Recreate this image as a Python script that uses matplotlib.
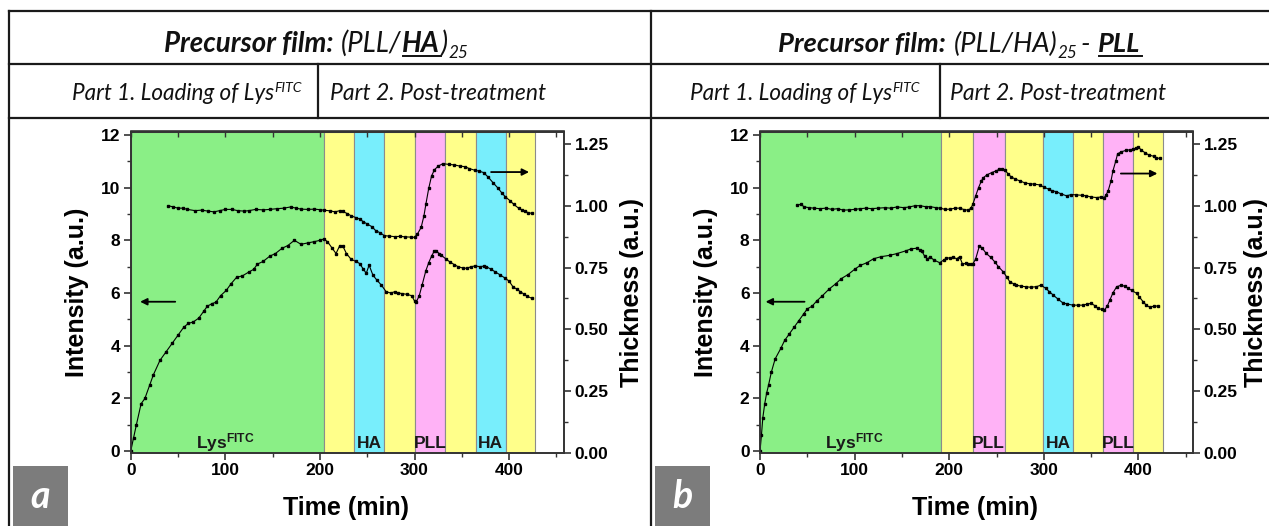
import matplotlib
matplotlib.use('Agg')
import matplotlib.pyplot as plt
from matplotlib.lines import Line2D
from matplotlib.patches import Rectangle
from matplotlib.transforms import IdentityTransform
from matplotlib.ticker import MultipleLocator, FormatStrFormatter

# ---------------- data ----------------
# Panel a : precursor (PLL/HA)25
a_int_t = [0, 3, 6, 11, 15, 20, 24, 31, 37, 44, 50, 56, 61, 66, 72, 77, 81, 86, 90, 95, 101, 106,
           112, 118, 125, 130, 134, 140, 147, 153, 160, 166, 173, 180, 187, 194, 200, 204, 208, 213,
           217, 221, 224, 228, 233, 238, 242, 246, 249, 252, 256, 260, 265, 270, 275, 279, 283, 287,
           292, 297, 300, 302, 305, 308, 312, 315, 318, 321, 323, 326, 328, 333, 337, 342, 346, 351,
           355, 360, 364, 369, 373, 376, 381, 385, 390, 396, 400, 404, 408, 412, 416, 419, 424]
a_int_v = [0.0, 0.5, 1.0, 1.8, 2.0, 2.5, 2.9, 3.45, 3.75, 4.1, 4.4, 4.7, 4.85, 4.9, 5.05, 5.3, 5.5,
           5.6, 5.65, 5.9, 6.1, 6.35, 6.6, 6.65, 6.8, 6.9, 7.1, 7.2, 7.4, 7.5, 7.7, 7.8, 8.0, 7.85,
           7.9, 7.95, 8.0, 8.05, 7.95, 7.7, 7.5, 7.8, 7.8, 7.5, 7.28, 7.2, 7.12, 6.9, 6.75, 7.06,
           6.68, 6.5, 6.3, 6.05, 6.0, 6.05, 6.0, 5.98, 5.95, 5.9, 5.7, 5.67, 5.9, 6.3, 6.85, 7.15,
           7.4, 7.6, 7.6, 7.5, 7.44, 7.3, 7.19, 7.08, 7.0, 6.95, 6.94, 7.0, 7.03, 7.0, 7.02, 7.0,
           6.9, 6.81, 6.7, 6.56, 6.45, 6.24, 6.15, 6.05, 5.95, 5.88, 5.8]
a_thk_t = [39.5, 45, 50, 55, 60, 68, 75, 82, 88, 94, 100, 107, 113, 120, 125, 132, 140, 147, 155,
           162, 169, 175, 180, 187, 194, 200, 204, 211, 216, 221, 224, 229, 233, 238, 242, 246, 250,
           255, 259, 264, 268, 273, 279, 285, 290, 296, 300, 303, 307, 310, 312, 315, 318, 321, 325,
           330, 336, 342, 348, 353, 358, 364, 368, 373, 378, 383, 388, 392, 396, 401, 405, 410, 414,
           417, 420, 424]
a_thk_v = [1.0, 0.995, 0.99, 0.99, 0.985, 0.98, 0.982, 0.978, 0.975, 0.98, 0.985, 0.985, 0.98,
           0.978, 0.98, 0.985, 0.983, 0.985, 0.988, 0.99, 0.995, 0.99, 0.986, 0.985, 0.986, 0.984,
           0.982, 0.979, 0.975, 0.98, 0.977, 0.968, 0.959, 0.952, 0.946, 0.935, 0.926, 0.915, 0.899,
           0.89, 0.879, 0.877, 0.875, 0.876, 0.874, 0.873, 0.872, 0.885, 0.912, 0.96, 1.006, 1.07,
           1.12, 1.145, 1.16, 1.17, 1.167, 1.165, 1.16, 1.158, 1.15, 1.143, 1.14, 1.134, 1.115,
           1.093, 1.072, 1.053, 1.036, 1.02, 1.005, 0.99, 0.982, 0.977, 0.972, 0.969]
a_band_edges = [0, 204, 236, 268, 300.5, 332.5, 364.5, 396.5, 427.5]
a_band_kinds = ['Lys', 'rinse', 'HA', 'rinse', 'PLL', 'rinse', 'HA', 'rinse']

# Panel b : precursor (PLL/HA)25-PLL
b_int_t = [0, 1.5, 3, 5, 7, 9, 12, 16, 22, 26, 31, 36, 41, 46, 50, 55, 60, 66, 73, 80, 86, 93, 100,
           106, 113, 120, 128, 137, 145, 154, 160, 166, 169, 171, 174, 177, 180, 184, 190, 194, 197,
           201, 204, 208, 211, 214, 218, 220, 223, 225, 228, 232, 235, 239, 244, 248, 252, 257, 261,
           264, 268, 271, 276, 281, 286, 292, 297, 302, 306, 310, 315, 320, 325, 331, 336, 341, 346,
           350, 354, 357, 361, 364, 367, 370, 373, 377, 382, 386, 389, 393, 398, 401, 405, 408, 412,
           416, 421]
b_int_v = [0.0, 0.6, 1.27, 1.8, 2.2, 2.5, 3.0, 3.5, 3.9, 4.2, 4.45, 4.7, 4.95, 5.2, 5.4, 5.5, 5.7,
           5.9, 6.15, 6.35, 6.55, 6.7, 6.9, 7.05, 7.15, 7.3, 7.38, 7.43, 7.5, 7.6, 7.68, 7.7, 7.63,
           7.6, 7.4, 7.3, 7.36, 7.25, 7.15, 7.25, 7.32, 7.34, 7.36, 7.3, 7.38, 7.1, 7.13, 7.12, 7.1,
           7.1, 7.3, 7.8, 7.7, 7.51, 7.35, 7.19, 7.0, 6.81, 6.6, 6.43, 6.35, 6.3, 6.26, 6.24, 6.22,
           6.24, 6.3, 6.18, 6.05, 5.92, 5.77, 5.63, 5.58, 5.54, 5.54, 5.54, 5.58, 5.61, 5.52, 5.42,
           5.38, 5.35, 5.5, 5.75, 6.0, 6.24, 6.3, 6.25, 6.18, 6.1, 5.99, 5.85, 5.67, 5.55, 5.46,
           5.5, 5.51]
b_thk_t = [39, 43, 47, 52, 57, 63, 70, 76, 82, 88, 94, 100, 106, 112, 118, 125, 132, 138, 145, 152,
           158, 164, 169, 175, 180, 186, 190, 196, 201, 206, 211, 216, 220, 223, 225, 228, 231, 234,
           236, 240, 245, 249, 253, 256, 259, 262, 265, 270, 275, 280, 285, 290, 296, 300, 305, 309,
           313, 318, 324, 329, 334, 340, 345, 350, 356, 360, 364, 366, 368, 371, 373, 376, 378, 382,
           387, 391, 394, 397, 400, 403, 407, 411, 416, 419, 423]
b_thk_v = [1.003, 1.005, 0.995, 0.992, 0.99, 0.988, 0.99, 0.985, 0.988, 0.982, 0.983, 0.985, 0.988,
           0.99, 0.988, 0.99, 0.992, 0.99, 0.995, 0.992, 0.995, 1.0, 1.0, 0.996, 0.996, 0.992, 0.99,
           0.985, 0.986, 0.99, 0.99, 0.984, 0.982, 0.99, 1.006, 1.04, 1.073, 1.1, 1.113, 1.125,
           1.134, 1.14, 1.147, 1.147, 1.143, 1.13, 1.118, 1.107, 1.1, 1.092, 1.089, 1.087, 1.084,
           1.075, 1.067, 1.06, 1.057, 1.048, 1.04, 1.045, 1.044, 1.042, 1.04, 1.035, 1.033, 1.035,
           1.033, 1.045, 1.06, 1.1, 1.14, 1.18, 1.21, 1.218, 1.224, 1.226, 1.228, 1.232, 1.237,
           1.225, 1.214, 1.205, 1.2, 1.193, 1.191]
b_band_edges = [0, 191.5, 225, 258.5, 299, 331, 363, 394.5, 426]
b_band_kinds = ['Lys', 'rinse', 'PLL', 'rinse', 'HA', 'rinse', 'PLL', 'rinse']

x_major = [0, 100, 200, 300, 400]
left_major = [0, 2, 4, 6, 8, 10, 12]
right_major = [0.0, 0.25, 0.5, 0.75, 1.0, 1.25]

band_colors = {'Lys': '#8aef86', 'rinse': '#ffff8a', 'HA': '#78eefc', 'PLL': '#ffb2f6'}
band_text = {'Lys': r'$\mathbf{Lys}^{\mathbf{FITC}}$', 'HA': 'HA', 'PLL': 'PLL', 'rinse': None}

# ---------------- figure ----------------
W, H, DPI = 1269, 526, 100
plt.rcParams['mathtext.fontset'] = 'custom'
plt.rcParams['mathtext.rm'] = 'Liberation Sans'
plt.rcParams['mathtext.bf'] = 'Liberation Sans:bold'
plt.rcParams['mathtext.it'] = 'Liberation Sans:italic'
fig = plt.figure(figsize=(W / DPI, H / DPI), dpi=DPI)
fig.patch.set_facecolor('white')

AXF = ['Liberation Sans', 'DejaVu Sans']
TBF = ['Lato', 'DejaVu Sans']
ident = IdentityTransform()


def fx(x):
    return x / W


def fy(y):
    return 1 - y / H


# table lines
lw_tab = 1.6
for (x0, y0, x1, y1) in [(9, 11, W, 11), (9, 64, W, 64), (9, 118, W, 118), (9, 11, 9, H),
                         (651, 11, 651, H), (318, 64, 318, 118), (940, 64, 940, 118)]:
    fig.add_artist(Line2D([fx(x0), fx(x1)], [fy(y0), fy(y1)], transform=fig.transFigure,
                          color='#1a1a1a', lw=lw_tab))

renderer = fig.canvas.get_renderer()


def rich(segs, x_left, base_y, width, base_size=14.0):
    """segs: list of (text, weight, script, underline, gap_em_before)"""
    def build(size):
        arts = []
        total = 0.0
        for text, weight, script, ul, gap in segs:
            fs = size * (0.62 if script else 1.0)
            t = fig.text(0, 0, text, transform=ident, fontsize=fs, fontweight=weight,
                         fontstyle='italic', family=TBF, va='baseline', ha='left', color='#111111')
            w = t.get_window_extent(renderer).width
            g = gap * size * DPI / 72.0
            total += g
            arts.append((t, w, g, script, ul, fs))
            total += w
        return arts, total

    arts, total = build(base_size)
    scale = width / total
    for a in arts:
        a[0].remove()
    size = base_size * scale
    arts, total = build(size)
    x = x_left
    spx = size * DPI / 72.0
    yb = H - base_y
    for t, w, g, script, ul, fs in arts:
        x += g
        dy = 0.0
        if script == 'sub':
            dy = -0.22 * spx
        elif script == 'sup':
            dy = 0.36 * spx
        t.set_position((x, yb + dy))
        if ul:
            fig.add_artist(Line2D([x + 1, x + w + 1], [yb - 0.14 * spx] * 2, transform=ident,
                                  color='#111111', lw=1.4))
        x += w


B, N = 'bold', 'normal'
rich([('Precursor film:', B, None, False, 0), ('(PLL/', N, None, False, 0.28),
      ('HA', B, None, True, 0.02), (')', N, None, False, 0.02), ('25', N, 'sub', False, 0.02)],
     164, 52, 305)
rich([('Precursor film:', B, None, False, 0), ('(PLL/HA)', N, None, False, 0.28),
      ('25', N, 'sub', False, 0.02), ('-', N, None, False, 0.12), ('PLL', B, None, True, 0.28)],
     778, 52, 364)
rich([('Part 1. Loading of Lys', N, None, False, 0), ('FITC', N, 'sup', False, 0.03)], 72, 100, 232)
rich([('Part 2. Post-treatment', N, None, False, 0)], 330, 100, 217)
rich([('Part 1. Loading of Lys', N, None, False, 0), ('FITC', N, 'sup', False, 0.03)], 690, 100, 232)
rich([('Part 2. Post-treatment', N, None, False, 0)], 950, 100, 217)

# panel letter boxes
for x0, letter in [(13, 'a'), (655, 'b')]:
    fig.add_artist(Rectangle((fx(x0), 0), 55 / W, 60 / H, transform=fig.transFigure,
                             facecolor='#7c7c7c', edgecolor='none'))
    fig.text(fx(x0 + 27.5), fy(496), letter, ha='center', va='center', fontsize=27,
             fontweight='bold', fontstyle='italic', family=TBF, color='white')

AX_TOP, AX_BOT, AX_W = 131.5, 453.0, 433.3
XMAX = 458
LABEL_FS = 18
TICK_FS = 12.5


def panel(left_px, int_t, int_v, thk_t, thk_v, edges, kinds, arrow_l, arrow_r, rlab_x):
    ax = fig.add_axes([fx(left_px), fy(AX_BOT), AX_W / W, (AX_BOT - AX_TOP) / H])
    ax.set_xlim(0, XMAX)
    ax.set_ylim(-0.07, 12.13)
    for i, k in enumerate(kinds):
        ax.axvspan(edges[i], edges[i + 1], facecolor=band_colors[k], edgecolor='#8c8c8c',
                   lw=0.8, zorder=0)
        lab = band_text[k]
        if lab:
            xc = (edges[i] + edges[i + 1]) / 2
            if k == 'Lys':
                xc = 100
            ax.text(xc, 0.12, lab, ha='center', va='baseline', fontsize=12.5,
                    fontweight='bold', family=AXF, color='#1a1a1a', zorder=3)
    ax.plot(int_t, int_v, color='black', lw=0.8, marker='s', ms=1.8, zorder=4)
    ax.annotate('', xy=(arrow_l[1], arrow_l[2]), xytext=(arrow_l[0], arrow_l[2]),
                arrowprops=dict(arrowstyle='-|>', color='black', lw=1.3, mutation_scale=10),
                zorder=5)

    ax2 = ax.twinx()
    ax2.set_ylim(0, 1.30)
    ax2.plot(thk_t, thk_v, color='black', lw=0.8, marker='s', ms=1.8, zorder=4)
    ax2.annotate('', xy=(arrow_r[1], arrow_r[2]), xytext=(arrow_r[0], arrow_r[2]),
                 arrowprops=dict(arrowstyle='-|>', color='black', lw=1.3, mutation_scale=10),
                 zorder=5)

    ax.xaxis.set_major_locator(MultipleLocator(100))
    ax.xaxis.set_minor_locator(MultipleLocator(50))
    ax.yaxis.set_major_locator(MultipleLocator(2))
    ax.yaxis.set_minor_locator(MultipleLocator(1))
    ax2.yaxis.set_major_locator(MultipleLocator(0.25))
    ax2.yaxis.set_minor_locator(MultipleLocator(0.125))
    ax2.yaxis.set_major_formatter(FormatStrFormatter('%.2f'))

    for a in (ax, ax2):
        for s in a.spines.values():
            s.set_linewidth(1.2)
            s.set_color('#333333')
        a.tick_params(which='major', direction='out', length=5, width=1.2, labelsize=TICK_FS,
                      pad=2.5, colors='#333333', labelcolor='black')
        a.tick_params(which='minor', direction='out', length=3, width=1.0, colors='#333333')
        for lbl in a.get_xticklabels() + a.get_yticklabels():
            lbl.set_fontweight('bold')
            lbl.set_family(AXF)
    ax.tick_params(axis='y', which='both', right=False)

    sec = ax.secondary_xaxis('top')
    sec.xaxis.set_major_locator(MultipleLocator(50))
    sec.tick_params(direction='in', length=4, width=1.0, labeltop=False, colors='#333333')
    sec.spines['top'].set_linewidth(1.2)
    sec.spines['top'].set_color('#333333')

    ax.set_xlabel('Time (min)', fontsize=LABEL_FS, fontweight='bold', family=AXF)
    ax.xaxis.set_label_coords(0.497, -0.17)
    ax.xaxis.label.set_va('center')
    ax.set_ylabel('Intensity (a.u.)', fontsize=LABEL_FS, fontweight='bold', family=AXF)
    ax.yaxis.set_label_coords(-0.125, 0.5)
    ax.yaxis.label.set_va('center')
    ax2.set_ylabel('Thickness (a.u.)', fontsize=LABEL_FS, fontweight='bold', family=AXF,
                   rotation=90)
    ax2.yaxis.set_label_coords(rlab_x, 0.5)
    ax2.yaxis.label.set_va('center')
    return ax, ax2


panel(130.7, a_int_t, a_int_v, a_thk_t, a_thk_v, a_band_edges, a_band_kinds,
      (50, 7, 5.67), (378, 424, 1.136), 1.156)
panel(760.0, b_int_t, b_int_v, b_thk_t, b_thk_v, b_band_edges, b_band_kinds,
      (50, 3, 5.67), (378.5, 423, 1.13), 1.144)

fig.savefig('out.png', dpi=DPI, facecolor='white')
